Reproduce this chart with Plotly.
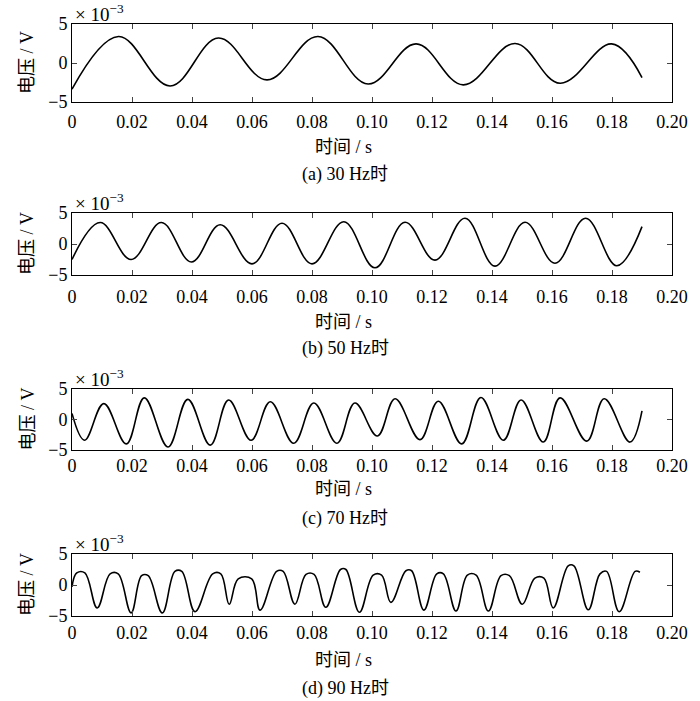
import plotly.graph_objects as go

# waveform key points (time in s, voltage in 1e-3 V)
t_30 = [0, 0.0155, 0.0327, 0.0488, 0.065, 0.082, 0.0987, 0.1147, 0.1304, 0.1477, 0.1627, 0.1799, 0.19]
v_30 = [-3.36, 3.4, -2.94, 3.2, -2.16, 3.4, -2.7, 2.45, -2.8, 2.5, -2.6, 2.45, -1.86]

t_50 = [0, 0.0094, 0.0197, 0.0298, 0.0398, 0.0494, 0.06, 0.07, 0.08, 0.0906, 0.101, 0.111,
        0.121, 0.131, 0.141, 0.151, 0.161, 0.1712, 0.1816, 0.19]
v_50 = [-2.5, 3.46, -2.5, 3.46, -2.9, 3.1, -3.2, 3.35, -3.2, 3.6, -3.84, 3.5,
        -2.6, 4.16, -3.57, 3.5, -3.1, 4.16, -3.5, 2.8]

t_70 = [0, 0.0042, 0.0106, 0.0181, 0.0241, 0.032, 0.0386, 0.0461, 0.0522, 0.0597, 0.0661, 0.0739,
        0.0806, 0.0883, 0.0943, 0.1018, 0.1077, 0.116, 0.1221, 0.1299, 0.1363, 0.1438, 0.1497,
        0.1571, 0.1627, 0.1716, 0.1774, 0.186, 0.19]
v_70 = [1.0, -3.4, 2.6, -4.0, 3.55, -4.5, 3.3, -4.2, 3.2, -3.4, 2.9, -3.9,
        2.7, -3.9, 2.7, -2.7, 3.4, -3.3, 3.0, -4.0, 3.6, -3.4, 3.2,
        -3.7, 3.55, -3.55, 3.4, -3.7, 1.4]

# 90 Hz: both ends of each flat-topped crest, then the trough
t_90 = [0, 0.0016, 0.0043, 0.0084, 0.0127, 0.0154, 0.0197, 0.0232, 0.0254, 0.0301,
        0.0343, 0.0366, 0.041, 0.0469, 0.0496, 0.0524, 0.0554, 0.0599, 0.0627,
        0.0682, 0.0704, 0.0743, 0.078, 0.0807, 0.0846, 0.0895, 0.0913, 0.0958,
        0.1004, 0.1032, 0.1063, 0.1113, 0.1132, 0.1173, 0.1216, 0.1238, 0.128,
        0.1318, 0.1347, 0.1388, 0.143, 0.1458, 0.1501, 0.1543, 0.1573, 0.1604,
        0.1654, 0.1673, 0.1721, 0.176, 0.1782, 0.1824, 0.1877, 0.1893]
v_90 = [-0.3, 1.95, 1.95, -3.7, 1.8, 1.8, -4.5, 1.5, 1.5, -4.5,
        2.2, 2.2, -4.3, 1.8, 1.8, -3.1, 1.0, 1.0, -4.05,
        2.2, 2.2, -3.1, 1.7, 1.7, -3.6, 2.5, 2.5, -4.4,
        1.6, 1.6, -2.8, 2.3, 2.3, -4.05, 1.8, 1.8, -4.2,
        1.6, 1.6, -4.2, 1.5, 1.5, -3.1, 1.1, 1.1, -3.7,
        3.1, 3.1, -4.0, 1.8, 2.2, -4.3, 2.2, 2.05]

captions = ['(a) 30 Hz时', '(b) 50 Hz时', '(c) 70 Hz时', '(d) 90 Hz时']
x_ticks = [0, 0.02, 0.04, 0.06, 0.08, 0.10, 0.12, 0.14, 0.16, 0.18, 0.20]
x_ticktext = ['0', '0.02', '0.04', '0.06', '0.08', '0.10', '0.12', '0.14', '0.16', '0.18', '0.20']
y_ticks = [-5, 0, 5]
y_ticktext = ['\u22125', '0', '5']

series = [(t_30, v_30), (t_50, v_50), (t_70, v_70), (t_90, v_90)]

# pixel layout of the page (body margin removed below)
W, H = 700, 701
ML, MR, MT, MB = 72, 28, 24, 85
PH = H - MT - MB
boxes = [(24, 102), (213, 275), (389, 450), (554, 616)]  # top / bottom px
tick_standoff = [3, 5, -1, 0]
label_offsets = [(45, 72), (47, 73), (39, 68), (44, 72)]

def py(px):
    return (H - MB - px) / PH

def pxx(px):
    return (px - ML) / (W - ML - MR)

FONT = 'Liberation Serif, Times New Roman, Noto Sans CJK SC, serif'

fig = go.Figure()
layout = dict(width=W, height=H, margin=dict(l=ML, r=MR, t=MT, b=MB, autoexpand=False),
              paper_bgcolor='white', plot_bgcolor='white', showlegend=False,
              font=dict(family=FONT, size=18, color='black'))
annotations = []

for i, (t, v) in enumerate(series):
    n = '' if i == 0 else str(i + 1)
    fig.add_trace(go.Scatter(x=t, y=v, mode='lines', xaxis='x' + n, yaxis='y' + n,
                             line=dict(color='black', width=1.6, shape='spline', smoothing=1.1)))
    top, bot = boxes[i]
    xl, cap = label_offsets[i]
    layout['xaxis' + n] = dict(domain=[0, 1], range=[0, 0.2], anchor='y' + n, automargin=False,
                               tickvals=x_ticks, ticktext=x_ticktext, ticks='inside', ticklen=5,
                               showline=True, linecolor='black', linewidth=1, mirror='ticks',
                               showgrid=False, zeroline=False, ticklabelstandoff=tick_standoff[i],
                               tickfont=dict(size=18))
    layout['yaxis' + n] = dict(domain=[py(bot), py(top)], range=[-5, 5], anchor='x' + n,
                               automargin=False, tickvals=y_ticks, ticktext=y_ticktext,
                               ticks='inside', ticklen=5, showline=True, linecolor='black',
                               linewidth=1, mirror='ticks', showgrid=False, zeroline=False,
                               tickfont=dict(size=18))
    annotations.append(dict(text='\u00d7 10<sup>\u22123</sup>', x=pxx(73), y=py(top - 11),
                            xref='paper', yref='paper', xanchor='left', yanchor='middle',
                            showarrow=False, font=dict(size=19)))
    annotations.append(dict(text='电压 / V', x=pxx(27), y=py((top + bot) / 2), textangle=-90,
                            xref='paper', yref='paper', xanchor='center', yanchor='middle',
                            showarrow=False, font=dict(size=18)))
    annotations.append(dict(text='时间 / s', x=pxx(343), y=py(bot + xl),
                            xref='paper', yref='paper', xanchor='center', yanchor='middle',
                            showarrow=False, font=dict(size=18)))
    annotations.append(dict(text=captions[i], x=pxx(345), y=py(bot + cap),
                            xref='paper', yref='paper', xanchor='center', yanchor='middle',
                            showarrow=False, font=dict(size=18)))

layout['annotations'] = annotations
fig.update_layout(**layout)
fig.write_html('out.html', config={'displayModeBar': False},
               post_script="document.body.style.margin='0';")
